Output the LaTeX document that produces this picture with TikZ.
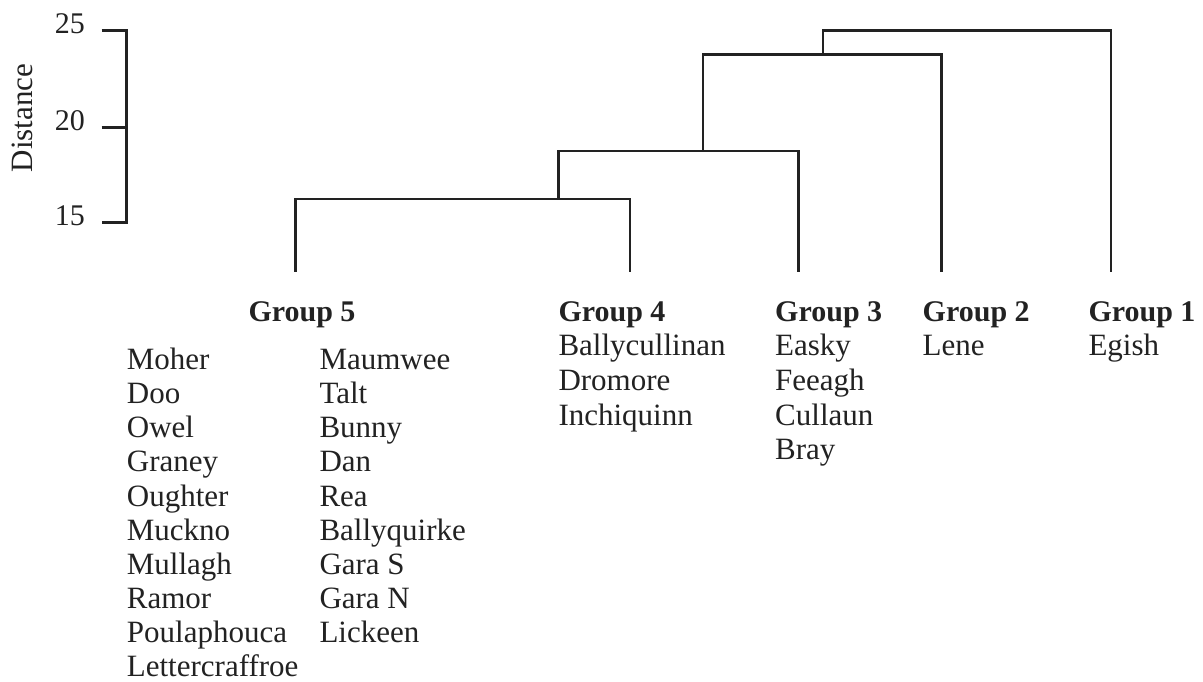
\documentclass[tikz,border=0pt]{standalone}
\usepackage{fontspec}
\setmainfont{Liberation Serif}
\definecolor{ink}{HTML}{222222}
\begin{document}
\begin{tikzpicture}[x=1pt,y=-1pt,
  lbl/.style={anchor=base west, inner sep=0pt, text=ink, font=\fontsize{31}{34}\selectfont},
  hdr/.style={lbl, font=\fontsize{30}{34}\selectfont\bfseries},
  ticklbl/.style={anchor=base east, inner sep=0pt, text=ink, font=\fontsize{30}{34}\selectfont},
  link/.style={draw=ink, line width=2.6pt, line join=miter}]
\useasboundingbox (0,0) rectangle (1203,681);
% axis
\coordinate (t25) at (101.7,30.7);
\coordinate (a25) at (126.7,30.7);
\coordinate (t20) at (101.7,127.3);
\coordinate (a20) at (126.7,127.3);
\coordinate (t15) at (101.7,222.7);
\coordinate (a15) at (126.7,222.7);
\draw[link] (t25) -- (a25) -- (a15) -- (t15);
\draw[link] (t20) -- (a20);
\node[ticklbl] (n25) at (85,33.7) {25};
\node[ticklbl] (n20) at (85,130.3) {20};
\node[ticklbl] (n15) at (85,225.7) {15};
\node[inner sep=0pt, text=ink, rotate=90, font=\fontsize{31}{34}\selectfont] (dist) at (22,118) {Distance};
% leaves
\coordinate (l5) at (295.6,271.7);
\coordinate (l4) at (630,271.7);
\coordinate (l3) at (798.6,271.7);
\coordinate (l2) at (941.5,271.7);
\coordinate (l1) at (1111,271.7);
% joins
\coordinate (c5) at (295.6,199);
\coordinate (c4) at (630,199);
\coordinate (m45) at (558.3,199);
\coordinate (b45) at (558.3,151);
\coordinate (c3) at (798.6,151);
\coordinate (m345) at (703,151);
\coordinate (b345) at (703,54.3);
\coordinate (c2) at (941.5,54.3);
\coordinate (m2345) at (822.8,54.3);
\coordinate (b2345) at (822.8,30.7);
\coordinate (c1) at (1111,30.7);
\draw[link] (l5) -- (c5) -- (c4) -- (l4);
\draw[link] (m45) -- (b45) -- (c3) -- (l3);
\draw[link] (m345) -- (b345) -- (c2) -- (l2);
\draw[link] (m2345) -- (b2345) -- (c1) -- (l1);
% group 5
\node[hdr] (g5) at (248.3,321.7) {Group 5};
\node[lbl] (moher) at (126.7,369.3) {Moher};
\node[lbl] (doo) at (126.7,403.5) {Doo};
\node[lbl] (owel) at (126.7,437.7) {Owel};
\node[lbl] (graney) at (126.7,471.9) {Graney};
\node[lbl] (oughter) at (126.7,506.1) {Oughter};
\node[lbl] (muckno) at (126.7,540.3) {Muckno};
\node[lbl] (mullagh) at (126.7,574.5) {Mullagh};
\node[lbl] (ramor) at (126.7,608.7) {Ramor};
\node[lbl] (poula) at (126.7,642.9) {Poulaphouca};
\node[lbl] (letter) at (126.7,676.5) {Lettercraffroe};
\node[lbl] (maum) at (319.3,369.3) {Maumwee};
\node[lbl] (talt) at (319.3,403.5) {Talt};
\node[lbl] (bunny) at (319.3,437.7) {Bunny};
\node[lbl] (dan) at (319.3,471.9) {Dan};
\node[lbl] (rea) at (319.3,506.1) {Rea};
\node[lbl] (bq) at (319.3,540.3) {Ballyquirke};
\node[lbl] (garas) at (319.3,574.5) {Gara S};
\node[lbl] (garan) at (319.3,608.7) {Gara N};
\node[lbl] (lick) at (319.3,642.9) {Lickeen};
% group 4
\node[hdr] (g4) at (558.3,321.7) {Group 4};
\node[lbl] (bc) at (558.3,355.5) {Ballycullinan};
\node[lbl] (drom) at (558.3,390.3) {Dromore};
\node[lbl] (inch) at (558.3,425) {Inchiquinn};
% group 3
\node[hdr] (g3) at (775,321.7) {Group 3};
\node[lbl] (easky) at (775,355.5) {Easky};
\node[lbl] (feeagh) at (775,390.3) {Feeagh};
\node[lbl] (cull) at (775,425) {Cullaun};
\node[lbl] (bray) at (775,459.7) {Bray};
% group 2
\node[hdr] (g2) at (922.5,321.7) {Group 2};
\node[lbl] (lene) at (922.5,355.5) {Lene};
% group 1
\node[hdr] (g1) at (1088.3,321.7) {Group 1};
\node[lbl] (egish) at (1088.3,355.5) {Egish};
\end{tikzpicture}
\end{document}
